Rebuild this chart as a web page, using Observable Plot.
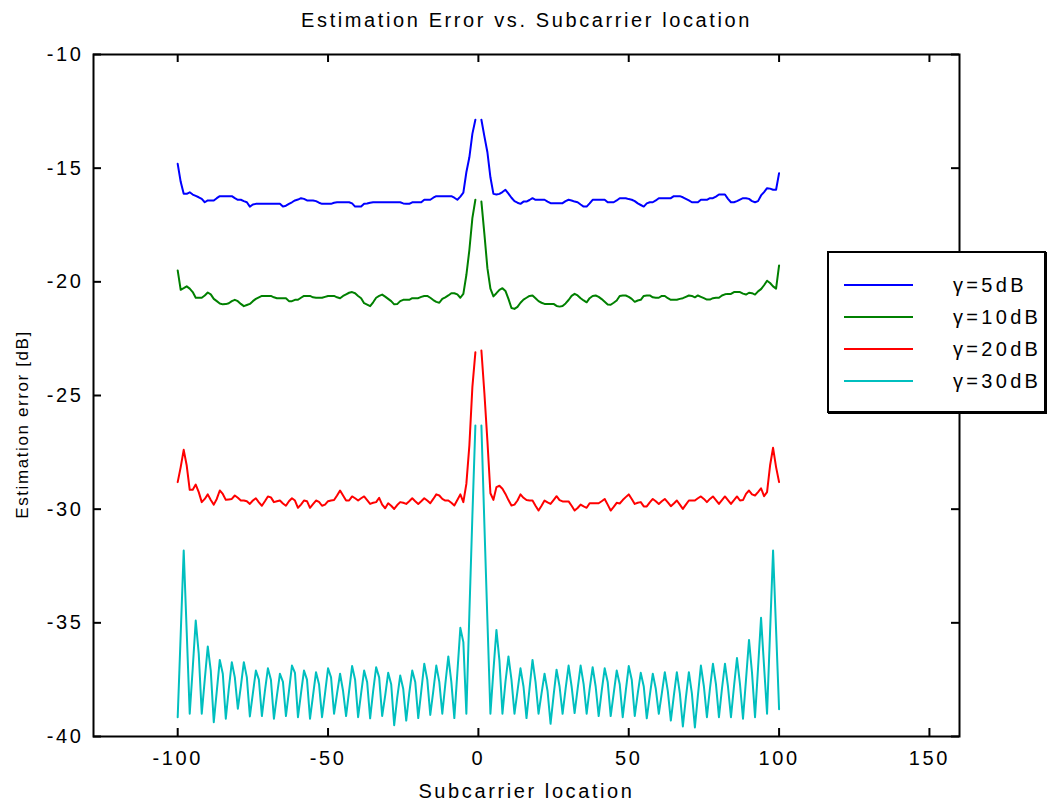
<!DOCTYPE html>
<html>
<head>
<meta charset="utf-8">
<script src="https://cdn.jsdelivr.net/npm/d3@7"></script>
<script src="https://cdn.jsdelivr.net/npm/@observablehq/plot@0.6"></script>
<style>
  html, body { margin: 0; padding: 0; background: #fff; }
  #wrap { position: relative; width: 1048px; height: 803px; font-family: "Liberation Sans", Arial, Helvetica, sans-serif; }
  #legend { position: absolute; left: 827px; top: 251px; width: 215px; height: 158px; border: 2px solid #000; box-shadow: 1px 1px 0 #000; background: #fff; box-sizing: content-box; }
  .lrow { position: absolute; left: 0; right: 0; height: 32px; }
  .lsw { position: absolute; left: 15px; width: 69px; top: 15px; height: 0; border-top: 2px solid; }
  .ltx { position: absolute; left: 124px; top: 4px; font-size: 20px; letter-spacing: 3.3px; color: #000; line-height: 24px; white-space: nowrap; }
</style>
</head>
<body>
<div id="wrap"></div>
<script>
// ---------- data ----------
const subcarriers = d3.range(-100, 101);
const seriesLabels = ["γ=5dB", "γ=10dB", "γ=20dB", "γ=30dB"];
const seriesColors = ["#0000ff", "#008000", "#ff0000", "#00bfbf"];

const err5dB = [
  -14.81, -15.60, -16.13, -16.13, -16.06, -16.16, -16.22, -16.28, -16.35, -16.50,
  -16.42, -16.42, -16.42, -16.32, -16.23, -16.23, -16.23, -16.23, -16.23, -16.32,
  -16.39, -16.39, -16.45, -16.50, -16.69, -16.60, -16.57, -16.57, -16.57, -16.57,
  -16.57, -16.57, -16.57, -16.57, -16.57, -16.69, -16.65, -16.57, -16.50, -16.42,
  -16.38, -16.32, -16.35, -16.42, -16.42, -16.42, -16.45, -16.52, -16.57, -16.57,
  -16.57, -16.57, -16.52, -16.50, -16.50, -16.50, -16.50, -16.50, -16.55, -16.69,
  -16.69, -16.69, -16.57, -16.55, -16.52, -16.50, -16.50, -16.50, -16.50, -16.50,
  -16.50, -16.50, -16.50, -16.50, -16.50, -16.55, -16.57, -16.57, -16.50, -16.50,
  -16.50, -16.50, -16.39, -16.39, -16.39, -16.30, -16.23, -16.23, -16.23, -16.23,
  -16.23, -16.23, -16.30, -16.39, -16.25, -16.08, -15.18, -14.52, -13.49, -12.87,
  NaN,
  -12.87, -13.60, -14.30, -15.40, -16.13, -16.16, -16.13, -16.05, -15.95, -16.12,
  -16.30, -16.45, -16.52, -16.57, -16.47, -16.47, -16.40, -16.32, -16.39, -16.39,
  -16.39, -16.39, -16.47, -16.54, -16.54, -16.54, -16.54, -16.54, -16.45, -16.39,
  -16.42, -16.47, -16.50, -16.60, -16.69, -16.69, -16.55, -16.39, -16.39, -16.39,
  -16.39, -16.39, -16.50, -16.50, -16.50, -16.42, -16.32, -16.32, -16.32, -16.36,
  -16.39, -16.45, -16.55, -16.62, -16.69, -16.55, -16.50, -16.50, -16.42, -16.32,
  -16.32, -16.32, -16.32, -16.32, -16.23, -16.23, -16.23, -16.28, -16.35, -16.42,
  -16.50, -16.50, -16.50, -16.39, -16.39, -16.39, -16.32, -16.32, -16.25, -16.16,
  -16.16, -16.16, -16.35, -16.50, -16.50, -16.45, -16.38, -16.32, -16.32, -16.35,
  -16.45, -16.50, -16.45, -16.20, -16.05, -15.88, -15.90, -15.95, -15.95, -15.22
];

const err10dB = [
  -19.50, -20.35, -20.28, -20.20, -20.30, -20.45, -20.70, -20.70, -20.70, -20.60,
  -20.47, -20.55, -20.75, -20.85, -20.95, -20.99, -20.98, -20.94, -20.85, -20.79,
  -20.85, -20.97, -21.07, -21.02, -20.97, -20.85, -20.75, -20.68, -20.62, -20.62,
  -20.62, -20.62, -20.68, -20.72, -20.72, -20.72, -20.72, -20.85, -20.85, -20.79,
  -20.79, -20.70, -20.62, -20.62, -20.62, -20.68, -20.70, -20.70, -20.70, -20.66,
  -20.62, -20.62, -20.62, -20.68, -20.72, -20.62, -20.55, -20.48, -20.45, -20.50,
  -20.62, -20.72, -20.94, -21.00, -21.07, -20.90, -20.70, -20.62, -20.56, -20.65,
  -20.75, -20.85, -20.99, -20.98, -20.85, -20.79, -20.79, -20.79, -20.72, -20.72,
  -20.72, -20.66, -20.62, -20.62, -20.70, -20.80, -20.88, -20.92, -20.75, -20.68,
  -20.60, -20.50, -20.50, -20.55, -20.70, -20.53, -19.70, -18.60, -17.20, -16.39,
  NaN,
  -16.47, -17.90, -19.40, -20.30, -20.64, -20.50, -20.35, -20.28, -20.40, -20.75,
  -21.15, -21.19, -21.10, -20.92, -20.78, -20.70, -20.62, -20.60, -20.72, -20.85,
  -20.92, -20.97, -20.97, -20.97, -20.97, -21.06, -21.09, -21.06, -20.95, -20.80,
  -20.62, -20.53, -20.60, -20.72, -20.82, -20.90, -20.72, -20.62, -20.60, -20.66,
  -20.76, -20.88, -21.00, -21.01, -20.92, -20.82, -20.62, -20.60, -20.60, -20.66,
  -20.75, -20.88, -20.82, -20.79, -20.62, -20.60, -20.60, -20.68, -20.70, -20.70,
  -20.62, -20.62, -20.72, -20.79, -20.79, -20.79, -20.75, -20.72, -20.66, -20.60,
  -20.62, -20.68, -20.60, -20.66, -20.72, -20.78, -20.78, -20.72, -20.70, -20.70,
  -20.60, -20.55, -20.53, -20.53, -20.45, -20.45, -20.45, -20.52, -20.56, -20.48,
  -20.50, -20.56, -20.42, -20.32, -20.15, -19.95, -20.05, -20.20, -20.30, -19.28
];

const err20dB = [
  -28.81, -28.15, -27.39, -28.08, -29.15, -29.15, -28.92, -29.25, -29.69, -29.55,
  -29.35, -29.60, -29.80, -29.55, -29.18, -29.33, -29.59, -29.57, -29.55, -29.40,
  -29.50, -29.62, -29.62, -29.65, -29.77, -29.62, -29.52, -29.70, -29.85, -29.65,
  -29.44, -29.48, -29.69, -29.65, -29.62, -29.75, -29.85, -29.65, -29.52, -29.62,
  -29.94, -29.80, -29.62, -29.65, -29.94, -29.78, -29.62, -29.68, -29.85, -29.80,
  -29.65, -29.62, -29.60, -29.40, -29.18, -29.40, -29.62, -29.62, -29.44, -29.52,
  -29.62, -29.52, -29.44, -29.60, -29.77, -29.72, -29.69, -29.50, -29.80, -29.96,
  -29.74, -29.85, -29.99, -29.82, -29.69, -29.72, -29.77, -29.65, -29.52, -29.65,
  -29.77, -29.65, -29.52, -29.62, -29.74, -29.55, -29.35, -29.40, -29.55, -29.62,
  -29.62, -29.72, -29.84, -29.60, -29.35, -29.69, -28.89, -27.20, -24.63, -23.10,
  NaN,
  -23.02, -24.90, -27.00, -29.30, -29.59, -29.03, -28.97, -29.10, -29.33, -29.60,
  -29.84, -29.80, -29.62, -29.35, -29.50, -29.60, -29.62, -29.62, -29.85, -30.06,
  -29.85, -29.62, -29.70, -29.77, -29.60, -29.43, -29.60, -29.66, -29.66, -29.66,
  -29.85, -30.06, -29.95, -29.80, -29.88, -29.94, -29.74, -29.74, -29.74, -29.74,
  -29.65, -29.55, -29.80, -30.06, -29.90, -29.72, -29.75, -29.60, -29.47, -29.35,
  -29.55, -29.77, -29.72, -29.69, -29.88, -29.88, -29.70, -29.55, -29.65, -29.77,
  -29.65, -29.55, -29.70, -29.87, -29.75, -29.62, -29.80, -29.99, -29.80, -29.62,
  -29.62, -29.62, -29.52, -29.44, -29.55, -29.69, -29.55, -29.44, -29.60, -29.77,
  -29.60, -29.44, -29.60, -29.77, -29.60, -29.44, -29.62, -29.60, -29.33, -29.18,
  -29.35, -29.40, -29.25, -29.08, -29.43, -29.25, -28.08, -27.30, -28.15, -28.81
];

const err30dB = [
  -39.15, -35.50, -31.82, -35.40, -39.00, -37.00, -34.90, -36.36, -39.00, -37.50,
  -36.04, -37.10, -39.37, -38.00, -36.63, -37.24, -39.22, -37.90, -36.73, -37.40,
  -38.78, -37.80, -36.73, -37.40, -39.12, -38.10, -37.10, -37.50, -39.10, -38.00,
  -37.00, -37.50, -39.22, -38.20, -37.24, -37.60, -39.10, -38.00, -36.88, -37.20,
  -39.15, -38.10, -37.10, -37.50, -39.22, -38.20, -37.17, -37.70, -39.15, -38.10,
  -37.00, -37.40, -39.00, -38.10, -37.24, -38.00, -39.10, -38.00, -36.90, -37.50,
  -39.15, -38.10, -37.10, -37.60, -39.20, -38.00, -36.95, -37.40, -39.10, -38.20,
  -37.20, -37.70, -39.50, -38.30, -37.32, -37.90, -39.30, -38.10, -37.10, -37.60,
  -39.19, -38.00, -36.80, -37.50, -39.05, -38.00, -36.88, -37.60, -39.00, -37.70,
  -36.48, -37.60, -39.19, -37.20, -35.22, -35.85, -39.00, -34.60, -30.30, -26.32,
  NaN,
  -26.32, -30.70, -34.90, -39.00, -37.10, -35.31, -36.66, -39.00, -37.60, -36.48,
  -37.50, -39.00, -38.00, -37.00, -37.80, -39.19, -37.90, -36.63, -37.60, -39.00,
  -38.10, -37.24, -38.00, -39.44, -38.20, -37.06, -37.80, -39.00, -37.90, -36.88,
  -37.80, -38.97, -37.90, -36.88, -37.70, -39.00, -37.90, -36.95, -37.80, -39.10,
  -38.00, -37.00, -37.60, -39.10, -38.10, -37.10, -37.70, -39.15, -38.00, -36.90,
  -37.50, -39.10, -38.10, -37.20, -37.80, -39.20, -38.20, -37.24, -37.90, -39.00,
  -38.10, -37.17, -38.00, -39.30, -38.20, -37.17, -38.10, -39.56, -38.30, -37.17,
  -38.10, -39.60, -38.20, -36.88, -37.80, -39.15, -37.90, -36.80, -37.70, -39.15,
  -37.90, -36.80, -37.80, -39.15, -37.80, -36.55, -37.70, -39.22, -37.50, -35.75,
  -37.20, -39.15, -37.00, -34.78, -36.90, -39.00, -35.40, -31.82, -35.30, -38.80
];

const xTicks = [-100, -50, 0, 50, 100, 150];
const yTicks = [-40, -35, -30, -25, -20, -15, -10];
const titleText = "Estimation Error vs. Subcarrier location";
const xLabelText = "Subcarrier location";
const yLabelText = "Estimation error [dB]";

// ---------- layout ----------
const W = 1048, H = 803;
const mL = 93, mR = 89, mT = 54, mB = 67;
const plotW = W - mL - mR, plotH = H - mT - mB;
const TICK = 8;
const FONT = '"Liberation Sans", Arial, Helvetica, sans-serif';

const seriesValues = [err5dB, err10dB, err20dB, err30dB];
const rows = seriesValues.flatMap((vals, s) =>
  vals.map((v, i) => ({x: subcarriers[i], y: v, series: seriesLabels[s]})));

const chart = Plot.plot({
  width: W, height: H,
  marginLeft: mL, marginRight: mR, marginTop: mT, marginBottom: mB,
  style: {fontFamily: FONT, fontSize: "20px", letterSpacing: "2.6px", background: "white", color: "black", overflow: "visible"},
  x: {domain: [-128, 160], label: null},
  y: {domain: [-40, -10], label: null},
  color: {domain: seriesLabels, range: seriesColors},
  marks: [
    Plot.line(rows, {x: "x", y: "y", stroke: "series", strokeWidth: 2, strokeLinejoin: "round"}),
    Plot.frame({stroke: "black", strokeWidth: 2}),
    Plot.tickX(xTicks, {x: d => d, stroke: "black", strokeWidth: 2, insetTop: plotH - TICK}),
    Plot.tickX(xTicks, {x: d => d, stroke: "black", strokeWidth: 2, insetBottom: plotH - TICK}),
    Plot.tickY(yTicks, {y: d => d, stroke: "black", strokeWidth: 2, insetRight: plotW - TICK}),
    Plot.tickY(yTicks, {y: d => d, stroke: "black", strokeWidth: 2, insetLeft: plotW - TICK}),
    Plot.axisX({ticks: xTicks, tickSize: 0, tickPadding: 14, tickFormat: d => String(d), label: null, fontSize: 20}),
    Plot.axisY({ticks: yTicks, tickSize: 0, tickPadding: 10, tickFormat: d => String(d), label: null, fontSize: 20}),
    Plot.text([titleText], {text: d => d, frameAnchor: "top", lineAnchor: "middle", textAnchor: "middle", dy: -34, fontSize: 20, fill: "black"}),
    Plot.text([xLabelText], {text: d => d, frameAnchor: "bottom", lineAnchor: "middle", textAnchor: "middle", dy: 55, fontSize: 20, fill: "black"}),
    Plot.text([yLabelText], {text: d => d, frameAnchor: "left", lineAnchor: "middle", textAnchor: "middle", dx: -71, dy: 29, rotate: -90, fontSize: 17, fill: "black"})
  ]
});

const wrap = document.getElementById("wrap");
wrap.appendChild(chart);

// the y-axis title uses tighter tracking than the rest
chart.querySelectorAll("text").forEach(t => {
  if (t.textContent === yLabelText) t.style.letterSpacing = "1.6px";
});

// ---------- legend (built from series arrays) ----------
const legend = document.createElement("div");
legend.id = "legend";
seriesLabels.forEach((lab, i) => {
  const row = document.createElement("div");
  row.className = "lrow";
  row.style.top = (16 + 32 * i) + "px";
  const sw = document.createElement("div");
  sw.className = "lsw";
  sw.style.borderTopColor = seriesColors[i];
  const tx = document.createElement("div");
  tx.className = "ltx";
  tx.textContent = lab;
  row.appendChild(sw);
  row.appendChild(tx);
  legend.appendChild(row);
});
wrap.appendChild(legend);
</script>
</body>
</html>
